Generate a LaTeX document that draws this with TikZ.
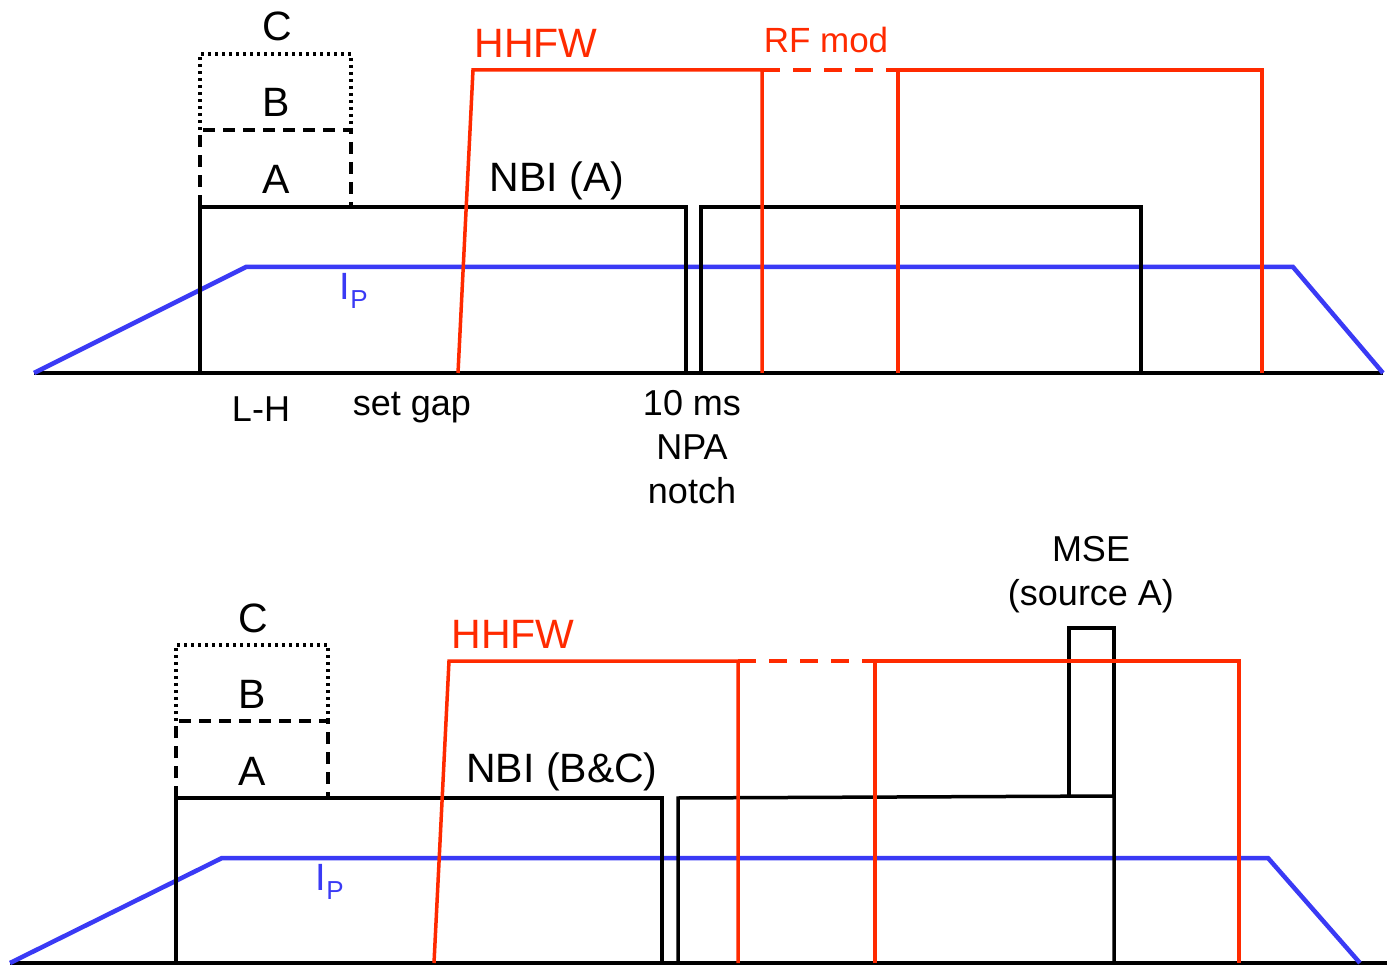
\documentclass[tikz,border=0pt]{standalone}
\usepackage{fontspec}
\setmainfont{Liberation Sans}
\definecolor{rfred}{RGB}{255,42,0}
\definecolor{ipblue}{RGB}{58,58,245}
\begin{document}
\begin{tikzpicture}[x=1pt,y=-1pt,
  blk/.style={line width=3.5pt,black,line join=miter},
  rf/.style={line width=3.5pt,rfred},
  ip/.style={line width=4.5pt,ipblue},
  boxA/.style={line width=3.5pt,dash pattern=on 12pt off 8pt},
  boxB/.style={line width=3.5pt,dash pattern=on 3pt off 4pt},
  rfdash/.style={line width=3.5pt,rfred,dash pattern=on 18pt off 13pt},
  lab/.style={font=\fontsize{41}{47}\selectfont,inner sep=0pt},
  mid/.style={font=\fontsize{36}{42}\selectfont,inner sep=0pt},
  small/.style={font=\fontsize{35}{40}\selectfont,inner sep=0pt}]
\useasboundingbox (0,0) rectangle (1387,965);
% ===== top panel =====
\draw[blk] (34,373) -- (1383,373);
\draw[ip] (34,373) -- (246,267) -- (1293,267) -- (1383,373);
\draw[blk] (200,373) -- (200,207) -- (686,207) -- (686,373);
\draw[blk] (701,373) -- (701,207) -- (1141,207) -- (1141,373);
\draw[boxA] (200,207) -- (200,130) -- (351,130) -- (351,207);
\draw[boxB] (200,130) -- (200,54) -- (351,54) -- (351,130);
\draw[rf] (458,373) -- (473,70) -- (762,70) -- (762,373);
\draw[rfdash] (762,70) -- (898,70);
\draw[rf] (898,373) -- (898,70) -- (1262,70) -- (1262,373);
\node[lab] (tC) at (277,26) {C};
\node[lab] (tB) at (276,102) {B};
\node[lab] (tA) at (276,179) {A};
\node[lab,text=rfred] (tH) at (536,43) {HHFW};
\node[small,text=rfred] (tRF) at (826,40) {RF mod};
\node[lab] (tN) at (557,181) {NBI (A)};
\node[mid,font=\fontsize{38}{44}\selectfont,text=ipblue] (tIp) at (354,291) {I\textsubscript{\fontsize{26}{30}\selectfont P}};
\node[mid] (tLH) at (261,409) {L-H};
\node[mid] (tSG) at (412,408) {set gap};
\node[mid,align=center] (tNPA) at (692,447) {10 ms\\[2pt]NPA\\[2pt]notch};
% ===== bottom panel =====
\draw[blk] (10,963) -- (1387,963);
\draw[ip] (10,963) -- (222,858) -- (1268,858) -- (1360,963);
\draw[blk] (176,963) -- (176,798) -- (662,798) -- (662,963);
\draw[blk] (678,963) -- (678,798) -- (1114,796) -- (1114,963);
\draw[blk] (1069,796) -- (1069,628) -- (1114,628) -- (1114,796);
\draw[boxA] (176,798) -- (176,721) -- (328,721) -- (328,798);
\draw[boxB] (176,721) -- (176,645) -- (328,645) -- (328,721);
\draw[rf] (434,963) -- (449,661) -- (738,661) -- (738,963);
\draw[rfdash] (738,661) -- (875,661);
\draw[rf] (875,963) -- (875,661) -- (1239,661) -- (1239,963);
\node[lab] (bC) at (253,618) {C};
\node[lab] (bB) at (252,694) {B};
\node[lab] (bA) at (252,771) {A};
\node[lab,text=rfred] (bH) at (513,634) {HHFW};
\node[lab] (bN) at (562,772) {NBI (B\&C)};
\node[mid,font=\fontsize{38}{44}\selectfont,text=ipblue] (bIp) at (330,882) {I\textsubscript{\fontsize{26}{30}\selectfont P}};
\node[mid,align=center] (bMSE) at (1091,575) {MSE\\[2pt](source A)};
\end{tikzpicture}
\end{document}
